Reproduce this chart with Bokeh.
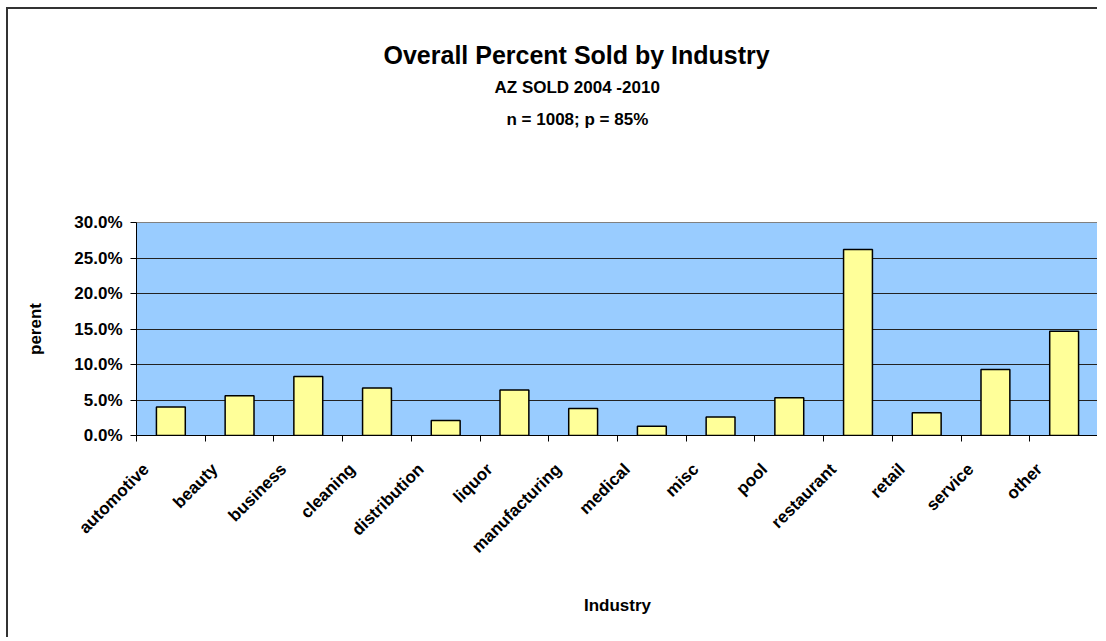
from bokeh.plotting import figure
from bokeh.models import ColumnDataSource, Range1d, Title, FixedTicker, NumeralTickFormatter
from bokeh.embed import file_html
from bokeh.resources import INLINE
import math

categories = ["automotive", "beauty", "business", "cleaning", "distribution", "liquor",
              "manufacturing", "medical", "misc", "pool", "restaurant", "retail",
              "service", "other"]
percent = [4.0, 5.6, 8.3, 6.7, 2.1, 6.4, 3.8, 1.3, 2.6, 5.3, 26.2, 3.2, 9.3, 14.7]
y_ticks = [0.0, 0.05, 0.10, 0.15, 0.20, 0.25, 0.30]

FONT = "Liberation Sans"

xs = [i + 0.5 for i in range(len(categories))]
src = ColumnDataSource(dict(x=xs, pct=[v / 100 for v in percent], cat=categories))

p = figure(width=1091, height=630,
           x_range=Range1d(0, len(categories)), y_range=Range1d(0, y_ticks[-1]),
           output_backend="svg", toolbar_location=None,
           min_border_left=128, min_border_right=1, min_border_top=213, min_border_bottom=204,
           background_fill_color="#99CCFF", border_fill_color="white",
           styles={"border-top": "2px solid #333333", "border-left": "2px solid #333333",
                   "margin-left": "6px", "margin-top": "7px"})
p.outline_line_color = "#808080"
p.outline_line_width = 1

p.title = Title(text="Overall Percent Sold by Industry", align="left", offset=247,
                text_font=FONT, text_font_size="25px", text_font_style="bold",
                text_color="black", standoff=4)
p.add_layout(Title(text=" ", text_font=FONT, text_font_size="1px", standoff=86), "above")
p.add_layout(Title(text="n = 1008;  p = 85%", align="left", offset=370,
                   text_font=FONT, text_font_size="17px", text_font_style="bold",
                   text_color="black", standoff=10), "above")
p.add_layout(Title(text="AZ SOLD 2004 -2010", align="left", offset=358,
                   text_font=FONT, text_font_size="17px", text_font_style="bold",
                   text_color="black", standoff=11), "above")

p.vbar(x="x", top="pct", width=0.42, source=src,
       fill_color="#FFFF99", line_color="black", line_width=1.5)

# y axis
p.yaxis.ticker = FixedTicker(ticks=y_ticks)
p.yaxis.formatter = NumeralTickFormatter(format="0.0%")
p.yaxis.axis_label = "perent"
p.yaxis.axis_label_text_font = FONT
p.yaxis.axis_label_text_font_size = "17px"
p.yaxis.axis_label_text_font_style = "bold"
p.yaxis.axis_label_text_color = "black"
p.yaxis.axis_label_standoff = 26
p.yaxis.major_label_text_font = FONT
p.yaxis.major_label_text_font_size = "17px"
p.yaxis.major_label_text_font_style = "bold"
p.yaxis.major_label_text_color = "black"
p.yaxis.major_label_standoff = 8
p.yaxis.major_tick_in = 0
p.yaxis.major_tick_out = 6
p.yaxis.minor_tick_line_color = None
p.yaxis.axis_line_color = "black"

# x axis: labels near centres, ticks at boundaries
label_pos = [x - 0.36 for x in xs]
p.xaxis.ticker = FixedTicker(ticks=label_pos, minor_ticks=list(range(len(categories) + 1)))
p.xaxis.major_label_overrides = {x: c for x, c in zip(label_pos, categories)}
p.xaxis.major_label_orientation = math.pi / 4
p.xaxis.major_tick_line_color = None
p.xaxis.minor_tick_in = 0
p.xaxis.minor_tick_out = 6
p.xaxis.minor_tick_line_color = "black"
p.xaxis.major_label_text_font = FONT
p.xaxis.major_label_text_font_size = "17px"
p.xaxis.major_label_text_font_style = "bold"
p.xaxis.major_label_text_color = "black"
p.xaxis.major_label_standoff = 25
p.xaxis.axis_label = "Industry"
p.xaxis.axis_label_text_font = FONT
p.xaxis.axis_label_text_font_size = "17px"
p.xaxis.axis_label_text_font_style = "bold"
p.xaxis.axis_label_text_color = "black"
p.xaxis.axis_label_standoff = 30
p.xaxis.axis_line_color = "black"

p.xgrid.grid_line_color = None
p.ygrid.grid_line_color = "#222222"
p.ygrid.grid_line_width = 1

open("out.html", "w").write(file_html(p, INLINE))
